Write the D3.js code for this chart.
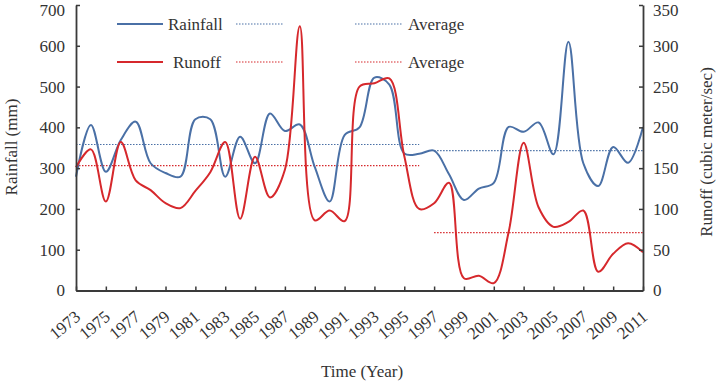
<!DOCTYPE html>
<html>
<head>
<meta charset="utf-8">
<script src="https://cdn.jsdelivr.net/npm/d3@7"></script>
<style>
  html, body { margin: 0; padding: 0; background: #fff; }
  text { font-family: "Liberation Serif", "Times New Roman", serif; fill: #333; }
</style>
</head>
<body>
<svg id="chart" width="717" height="387"></svg>
<script>
const years = d3.range(1973, 2012);
const tickYears = d3.range(1973, 2012, 2);

const rainfall = [279, 406, 291, 369, 414, 312, 288, 279, 420, 420,
                  279, 377, 312, 434, 391, 407, 303, 218, 381, 400,
                  522, 505, 336, 335, 343, 285, 222, 250, 264, 401,
                  389, 412, 334, 610, 312, 256, 352, 313, 401];

const runoff = [151, 173, 109, 182, 135, 123, 107, 101, 122, 145,
                182, 88, 164, 114, 148, 324, 86, 98, 85, 250,
                254, 260, 165, 100, 107, 132, 15, 18, 9, 72,
                181, 102, 78, 84, 98, 23, 45, 58, 47];

const rainfallAverages = [
  { from: 1973, to: 1996, value: 358 },
  { from: 1997, to: 2011, value: 343 }
];
const runoffAverages = [
  { from: 1973, to: 1996, value: 153 },
  { from: 1997, to: 2011, value: 71 }
];

const leftTicks = [0, 100, 200, 300, 400, 500, 600, 700];
const rightTicks = [0, 50, 100, 150, 200, 250, 300, 350];

const blue = "#4a70a6";
const red = "#d6282c";
const axisColor = "#3a3a3a";

const svg = d3.select("#chart");
const L = 76, R = 643, T = 5, B = 290.5;

const x = d3.scaleLinear().domain([1973, 2011]).range([L, R]);
const yL = d3.scaleLinear().domain([0, 700]).range([B, T]);
const yR = d3.scaleLinear().domain([0, 350]).range([B, T]);

const curve = d3.curveCatmullRom.alpha(0.5);

// average lines
function avgLine(data, scale, color) {
  svg.selectAll(null).data(data).enter().append("line")
    .attr("x1", d => x(d.from)).attr("x2", d => x(d.to))
    .attr("y1", d => scale(d.value)).attr("y2", d => scale(d.value))
    .attr("stroke", color).attr("stroke-width", 1.2)
    .attr("stroke-dasharray", "1.5,1.5");
}
avgLine(rainfallAverages, yL, blue);
avgLine(runoffAverages, yR, red);

// series
svg.append("path").datum(rainfall)
  .attr("d", d3.line().x((d, i) => x(years[i])).y(d => yL(d)).curve(curve))
  .attr("fill", "none").attr("stroke", blue).attr("stroke-width", 2);

svg.append("path").datum(runoff)
  .attr("d", d3.line().x((d, i) => x(years[i])).y(d => yR(d)).curve(curve))
  .attr("fill", "none").attr("stroke", red).attr("stroke-width", 2);

// axes
const gL = svg.append("g").attr("transform", `translate(${L},0)`)
  .call(d3.axisLeft(yL).tickValues(leftTicks).tickSizeInner(-4).tickSizeOuter(0).tickPadding(11));
const gR = svg.append("g").attr("transform", `translate(${R},0)`)
  .call(d3.axisRight(yR).tickValues(rightTicks).tickSizeInner(-4).tickSizeOuter(0).tickPadding(10));
const gX = svg.append("g").attr("transform", `translate(0,${B})`)
  .call(d3.axisBottom(x).tickValues(tickYears).tickFormat(d3.format("d")).tickSizeInner(-4).tickSizeOuter(0));

[gL, gR, gX].forEach(g => {
  g.select(".domain").attr("stroke", axisColor).attr("stroke-width", 1.8);
  g.selectAll(".tick line").attr("stroke", axisColor).attr("stroke-width", 1.5);
  g.selectAll(".tick text").attr("font-family", "Liberation Serif, serif")
    .attr("font-size", 17).attr("fill", "#333");
});
// keep the topmost labels fully inside the picture
gL.selectAll(".tick text").filter(d => d === 700).attr("y", 5);
gR.selectAll(".tick text").filter(d => d === 350).attr("y", 5);

gX.selectAll(".tick text")
  .attr("text-anchor", "end")
  .attr("dy", 0)
  .attr("y", 0)
  .attr("transform", "translate(5,28) rotate(-40)");

// axis titles
svg.append("text").attr("transform", "translate(17,147) rotate(-90)")
  .attr("text-anchor", "middle").attr("font-size", 17).text("Rainfall (mm)");
svg.append("text").attr("transform", "translate(712,152) rotate(-90)")
  .attr("text-anchor", "middle").attr("font-size", 17).text("Runoff (cubic meter/sec)");
svg.append("text").attr("x", 362).attr("y", 377)
  .attr("text-anchor", "middle").attr("font-size", 17).text("Time (Year)");

// legend
const legendRows = [
  { label: "Rainfall", color: blue, y: 24, tx: 168 },
  { label: "Runoff", color: red, y: 62, tx: 173 }
];
const lg = svg.append("g");
legendRows.forEach(r => {
  lg.append("line").attr("x1", 117).attr("x2", 163).attr("y1", r.y).attr("y2", r.y)
    .attr("stroke", r.color).attr("stroke-width", 2);
  lg.append("text").attr("x", r.tx).attr("y", r.y + 6).attr("font-size", 17).text(r.label);
  [[236, 283], [355, 402]].forEach(s => {
    lg.append("line").attr("x1", s[0]).attr("x2", s[1]).attr("y1", r.y).attr("y2", r.y)
      .attr("stroke", r.color).attr("stroke-width", 1.2).attr("stroke-dasharray", "1.5,1.5");
  });
  lg.append("text").attr("x", 408).attr("y", r.y + 6).attr("font-size", 17).text("Average");
});
</script>
</body>
</html>
